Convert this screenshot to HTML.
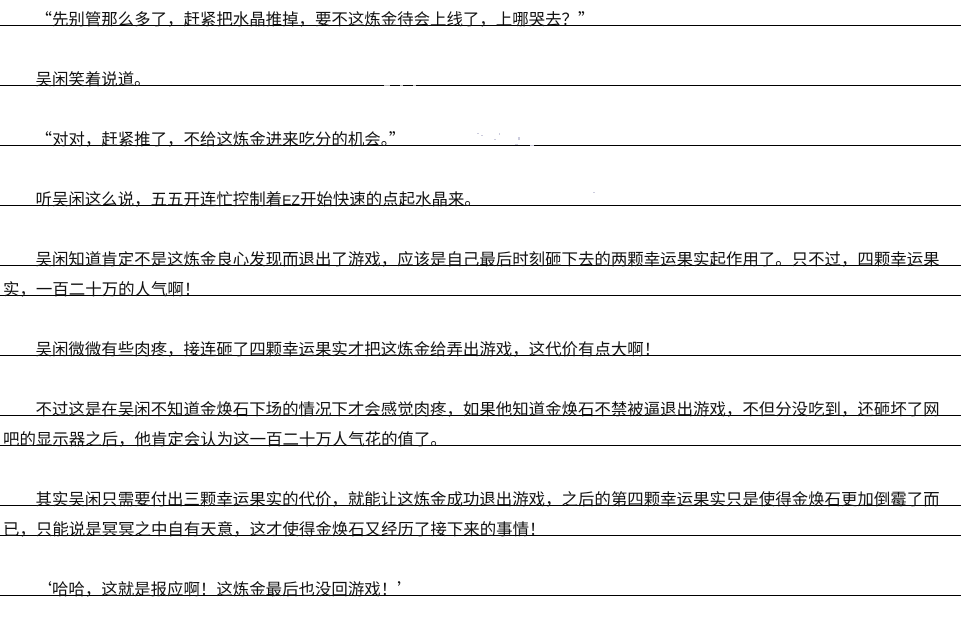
<!DOCTYPE html>
<html lang="zh">
<head>
<meta charset="utf-8">
<style>
html,body{margin:0;padding:0;background:#fff;}
#p{position:relative;width:966px;height:622px;overflow:hidden;background:#fff;}
.l{position:absolute;left:0;width:961px;height:1px;background:#000;}
.t{position:absolute;white-space:nowrap;font-family:"WenQuanYi Zen Hei","Noto Sans CJK SC",sans-serif;font-size:16.45px;line-height:20px;height:20px;color:#111;-webkit-font-smoothing:none;font-smooth:never;text-rendering:geometricPrecision;}
.t span{font-family:"Liberation Sans",sans-serif;font-size:14px;}
.s{position:absolute;background:#ccd;}
.w{position:absolute;background:#bbb;height:1px;}
</style>
</head>
<body>
<div id="p">
<div class="l" style="top:25px"></div>
<div class="l" style="top:85px"></div>
<div class="l" style="top:145px"></div>
<div class="l" style="top:205px"></div>
<div class="l" style="top:265px"></div>
<div class="l" style="top:295px"></div>
<div class="l" style="top:355px"></div>
<div class="l" style="top:415px"></div>
<div class="l" style="top:445px"></div>
<div class="l" style="top:505px"></div>
<div class="l" style="top:535px"></div>
<div class="l" style="top:595px"></div>

<div class="t" style="left:35.5px;top:8px">“先别管那么多了，赶紧把水晶推掉，要不这炼金待会上线了，上哪哭去？”</div>
<div class="t" style="left:35.5px;top:68px">吴闲笑着说道。</div>
<div class="t" style="left:35.5px;top:128px">“对对，赶紧推了，不给这炼金进来吃分的机会。”</div>
<div class="t" style="left:35.5px;top:188px">听吴闲这么说，五五开连忙控制着<span>EZ</span>开始快速的点起水晶来。</div>
<div class="t" style="left:35.5px;top:248px">吴闲知道肯定不是这炼金良心发现而退出了游戏，应该是自己最后时刻砸下去的两颗幸运果实起作用了。只不过，四颗幸运果</div>
<div class="t" style="left:3px;top:278px">实，一百二十万的人气啊！</div>
<div class="t" style="left:35.5px;top:338px">吴闲微微有些肉疼，接连砸了四颗幸运果实才把这炼金给弄出游戏，这代价有点大啊！</div>
<div class="t" style="left:35.5px;top:398px">不过这是在吴闲不知道金焕石下场的情况下才会感觉肉疼，如果他知道金焕石不禁被逼退出游戏，不但分没吃到，还砸坏了网</div>
<div class="t" style="left:3px;top:428px">吧的显示器之后，他肯定会认为这一百二十万人气花的值了。</div>
<div class="t" style="left:35.5px;top:488px">其实吴闲只需要付出三颗幸运果实的代价，就能让这炼金成功退出游戏，之后的第四颗幸运果实只是使得金焕石更加倒霉了而</div>
<div class="t" style="left:3px;top:518px">已，只能说是冥冥之中自有天意，这才使得金焕石又经历了接下来的事情！</div>
<div class="t" style="left:35.5px;top:578px">‘哈哈，这就是报应啊！这炼金最后也没回游戏！’</div>

<div class="w" style="top:85px;left:384px;width:6px"></div>
<div class="w" style="top:85px;left:400px;width:3px"></div>
<div class="w" style="top:85px;left:413px;width:3px"></div>
<div class="s" style="left:477px;top:133px;width:2px;height:1px"></div>
<div class="s" style="left:481px;top:135px;width:2px;height:1px"></div>
<div class="s" style="left:494px;top:139px;width:2px;height:1px"></div>
<div class="s" style="left:499px;top:133px;width:1px;height:2px"></div>
<div class="s" style="left:518px;top:137px;width:2px;height:3px"></div>
<div class="s" style="left:515px;top:144px;width:3px;height:1px"></div>
<div class="s" style="left:530px;top:145px;width:4px;height:1px"></div>
<div class="s" style="left:593px;top:192px;width:2px;height:1px"></div>
</div>
</body>
</html>
